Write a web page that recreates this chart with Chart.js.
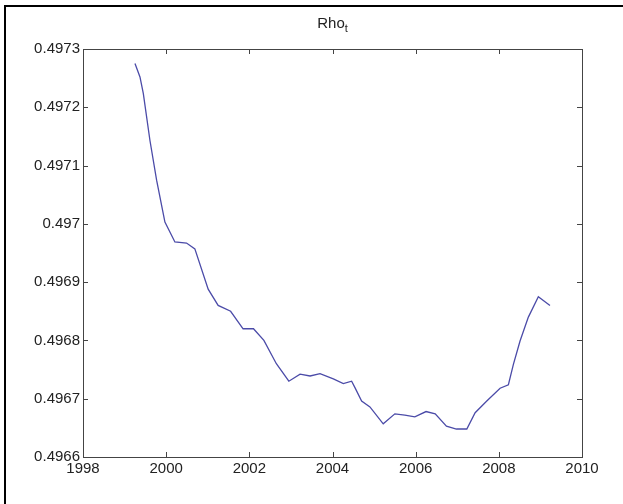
<!DOCTYPE html>
<html>
<head>
<meta charset="utf-8">
<script src="https://cdn.jsdelivr.net/npm/chart.js@4"></script>
<style>
    body { margin: 0; background: #fff; }
    #wrap { position: relative; width: 623px; height: 504px; }
    #frame { position: absolute; left: 4px; top: 5px; right: 0; bottom: 0; border-left: 2px solid #000; border-top: 2px solid #000; pointer-events: none; }
</style>
</head>
<body>
<div id="wrap">
    <canvas id="chart" width="623" height="504"></canvas>
    <div id="frame"></div>
</div>
<script>
// values
var years = [1999.25, 1999.37, 1999.45, 1999.61, 1999.77, 1999.97, 2000.21, 2000.49, 2000.69, 2001.01,
    2001.25, 2001.55, 2001.85, 2002.1, 2002.35, 2002.65, 2002.95, 2003.22, 2003.46, 2003.70,
    2004.02, 2004.26, 2004.46, 2004.54, 2004.70, 2004.90, 2005.22, 2005.50, 2005.74, 2005.98,
    2006.25, 2006.47, 2006.74, 2006.98, 2007.23, 2007.43, 2007.71, 2008.03, 2008.23, 2008.35,
    2008.51, 2008.71, 2008.95, 2009.23];
var rho = [0.497275, 0.497252, 0.497224, 0.497143, 0.497075, 0.497003, 0.496969, 0.496967, 0.496957, 0.496888,
    0.49686, 0.49685, 0.49682, 0.49682, 0.49680, 0.49676, 0.49673, 0.496742, 0.496739, 0.496743,
    0.496734, 0.496726, 0.49673, 0.496719, 0.496696, 0.496686, 0.496657, 0.496674, 0.496672, 0.496669,
    0.496678, 0.496674, 0.496653, 0.496648, 0.496648, 0.496676, 0.496696, 0.496718, 0.496724, 0.496759,
    0.496799, 0.49684, 0.496875, 0.49686];
var xTicks = [1998, 2000, 2002, 2004, 2006, 2008, 2010];
var yTicks = [0.4966, 0.4967, 0.4968, 0.4969, 0.497, 0.4971, 0.4972, 0.4973];

var tickFont = { family: "'Liberation Sans Narrow', 'Liberation Sans', sans-serif", size: 15 };

// matlab style box, inward ticks and the Rho_t title
var boxPlugin = {
    id: 'box',
    afterDraw: function (chart) {
        var ctx = chart.ctx;
        var a = chart.chartArea;
        var xs = chart.scales.x, ys = chart.scales.y;
        ctx.save();
        ctx.strokeStyle = '#444';
        ctx.lineWidth = 1;
        ctx.strokeRect(a.left + 0.5, a.top + 0.5, a.right - a.left, a.bottom - a.top);
        ctx.beginPath();
        xTicks.forEach(function (v) {
            var px = Math.round(xs.getPixelForValue(v)) + 0.5;
            ctx.moveTo(px, a.bottom); ctx.lineTo(px, a.bottom - 5);
            ctx.moveTo(px, a.top); ctx.lineTo(px, a.top + 5);
        });
        yTicks.forEach(function (v) {
            var py = Math.round(ys.getPixelForValue(v)) + 0.5;
            ctx.moveTo(a.left, py); ctx.lineTo(a.left + 5, py);
            ctx.moveTo(a.right, py); ctx.lineTo(a.right - 5, py);
        });
        ctx.stroke();

        // title
        ctx.fillStyle = '#222';
        ctx.textBaseline = 'alphabetic';
        ctx.font = "15px 'Liberation Sans Narrow', 'Liberation Sans', sans-serif";
        var w1 = ctx.measureText('Rho').width;
        ctx.font = "11px 'Liberation Sans Narrow', 'Liberation Sans', sans-serif";
        var w2 = ctx.measureText('t').width;
        var cx = (a.left + a.right) / 2;
        var x0 = cx - (w1 + w2) / 2;
        ctx.font = "15px 'Liberation Sans Narrow', 'Liberation Sans', sans-serif";
        ctx.fillText('Rho', x0, 28);
        ctx.font = "11px 'Liberation Sans Narrow', 'Liberation Sans', sans-serif";
        ctx.fillText('t', x0 + w1, 32);
        ctx.restore();
    }
};

var points = years.map(function (y, i) { return { x: y, y: rho[i] }; });

new Chart(document.getElementById('chart'), {
    type: 'line',
    data: {
        datasets: [{
            data: points,
            borderColor: '#4b4ba8',
            borderWidth: 1.3,
            pointRadius: 0,
            tension: 0,
            fill: false
        }]
    },
    options: {
        responsive: false,
        animation: false,
        layout: { padding: { top: 49, right: 41, left: 0, bottom: 0 } },
        plugins: { legend: { display: false }, tooltip: { enabled: false }, title: { display: false } },
        scales: {
            x: {
                type: 'linear',
                min: 1998,
                max: 2010,
                afterFit: function (s) { s.height = 47; },
                afterBuildTicks: function (s) { s.ticks = xTicks.map(function (v) { return { value: v }; }); },
                grid: { display: false, drawTicks: false },
                border: { display: false },
                ticks: {
                    color: '#222', font: tickFont, padding: 3, maxRotation: 0, autoSkip: false,
                    callback: function (v) { return String(v); }
                }
            },
            y: {
                type: 'linear',
                min: 0.4966,
                max: 0.4973,
                afterFit: function (s) { s.width = 83; },
                afterBuildTicks: function (s) { s.ticks = yTicks.map(function (v) { return { value: v }; }); },
                grid: { display: false, drawTicks: false },
                border: { display: false },
                ticks: {
                    color: '#222', font: tickFont, padding: 3, autoSkip: false,
                    callback: function (v) { return String(Number(v.toFixed(4))); }
                }
            }
        }
    },
    plugins: [boxPlugin]
});
</script>
</body>
</html>
